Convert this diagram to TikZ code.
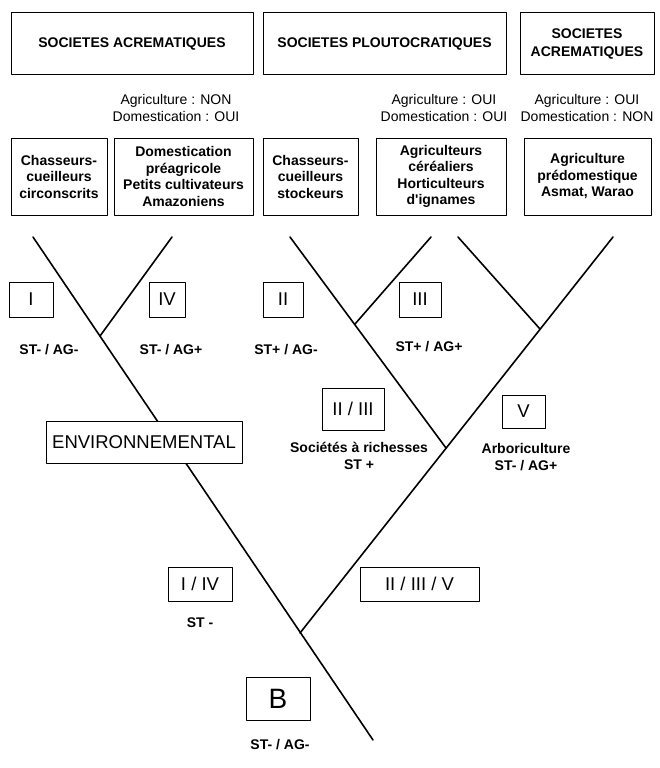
\documentclass[tikz,border=0pt]{standalone}
\usepackage{fontspec}
\setmainfont{Liberation Sans}
\begin{document}
\begin{tikzpicture}[line cap=round,line join=round,x=1pt,y=-1pt,
  head/.style={draw,line width=0.9pt,inner sep=0pt,align=center,font=\bfseries\fontsize{14}{18}\selectfont},
  group/.style={draw,line width=0.9pt,inner sep=0pt,align=center,minimum height=77pt,font=\bfseries\fontsize{14}{16.5}\selectfont},
  num/.style={draw,fill=white,line width=0.9pt,inner sep=0pt,font=\fontsize{18.5}{20}\selectfont},
  lbl/.style={align=center,font=\bfseries\fontsize{14}{17}\selectfont},
  info/.style={align=center,font=\fontsize{14}{17}\selectfont},
  branch/.style={line width=1.6pt}]
          \useasboundingbox (0,0) rectangle (659,768);

          \coordinate (T1) at (33,237);
          \coordinate (T4) at (172,237);
          \coordinate (T2) at (290,237);
          \coordinate (T3) at (431,237);
          \coordinate (T5) at (458,237);
          \coordinate (TR) at (613,237);
          \coordinate (J14) at (100,336);
          \coordinate (J3) at (355,324);
          \coordinate (J5) at (540,329);
          \coordinate (J23) at (446,448);
          \coordinate (J0) at (300,633);
          \coordinate (R) at (373,740);

          \draw[branch] (T1) -- (R);
          \draw[branch] (J14) -- (T4);
          \draw[branch] (J0) -- (TR);
          \draw[branch] (T2) -- (J23);
          \draw[branch] (J3) -- (T3);
          \draw[branch] (J5) -- (T5);

          \node[head,minimum width=242pt,minimum height=62pt] (acr1) at (132,43.5) {SOCIETES ACREMATIQUES};
          \node[head,minimum width=243pt,minimum height=62pt] (plo) at (384.5,43.5) {SOCIETES PLOUTOCRATIQUES};
          \node[head,minimum width=134pt,minimum height=62pt] (acr2) at (587,43.5) {SOCIETES\\ACREMATIQUES};

          \node[info] (agri1) at (176,108) {Agriculture : NON\\Domestication : OUI};
          \node[info] (agri2) at (444,108) {Agriculture : OUI\\Domestication : OUI};
          \node[info] (agri3) at (587,108) {Agriculture : OUI\\Domestication : NON};

          \node[group,minimum width=96pt] (circ) at (59,176.5) {Chasseurs-\\cueilleurs\\circonscrits};
          \node[group,minimum width=139pt] (ama) at (183.5,176.5) {Domestication\\préagricole\\Petits cultivateurs\\Amazoniens};
          \node[group,minimum width=95pt] (stock) at (310.5,176.5) {Chasseurs-\\cueilleurs\\stockeurs};
          \node[group,minimum width=130pt] (cer) at (441,176.5) {Agriculteurs\\céréaliers\\Horticulteurs\\d\textquotesingle ignames};
          \node[group,minimum width=127pt] (pred) at (587.5,176.5) {Agriculture\\prédomestique\\Asmat, Warao};

          \node[num,minimum width=44pt,minimum height=35pt] (nI) at (31,299.5) {I};
          \node[num,minimum width=36pt,minimum height=35pt] (nIV) at (167,299.5) {IV};
          \node[num,minimum width=40pt,minimum height=35pt] (nII) at (283,299.5) {II};
          \node[num,minimum width=42pt,minimum height=35pt] (nIII) at (420,299.5) {III};
          \node[num,minimum width=62pt,minimum height=42pt] (nIIIII) at (353,409) {II / III};
          \node[num,minimum width=43pt,minimum height=33pt] (nV) at (523.5,411.5) {V};
          \node[num,minimum width=196pt,minimum height=42pt] (env) at (144,442) {ENVIRONNEMENTAL};
          \node[num,minimum width=64pt,minimum height=34pt] (nIIV) at (200,584) {I / IV};
          \node[num,minimum width=119pt,minimum height=34pt] (nIIIIIIV) at (419.5,584) {II / III / V};
          \node[num,minimum width=64pt,minimum height=43pt,font=\fontsize{28}{30}\selectfont] (nB) at (278,698.5) {B};

          \node[lbl] (sI) at (49,350) {ST- / AG-};
          \node[lbl] (sIV) at (171,350) {ST- / AG+};
          \node[lbl] (sII) at (286,350) {ST+ / AG-};
          \node[lbl] (sIII) at (429,347) {ST+ / AG+};
          \node[lbl] (sIIIII) at (359,456) {Sociétés à richesses\\ST +};
          \node[lbl] (sV) at (526,457) {Arboriculture\\ST- / AG+};
          \node[lbl] (sIIV) at (200,623) {ST -};
          \node[lbl] (sB) at (280,745) {ST- / AG-};

        \end{tikzpicture}
\end{document}
